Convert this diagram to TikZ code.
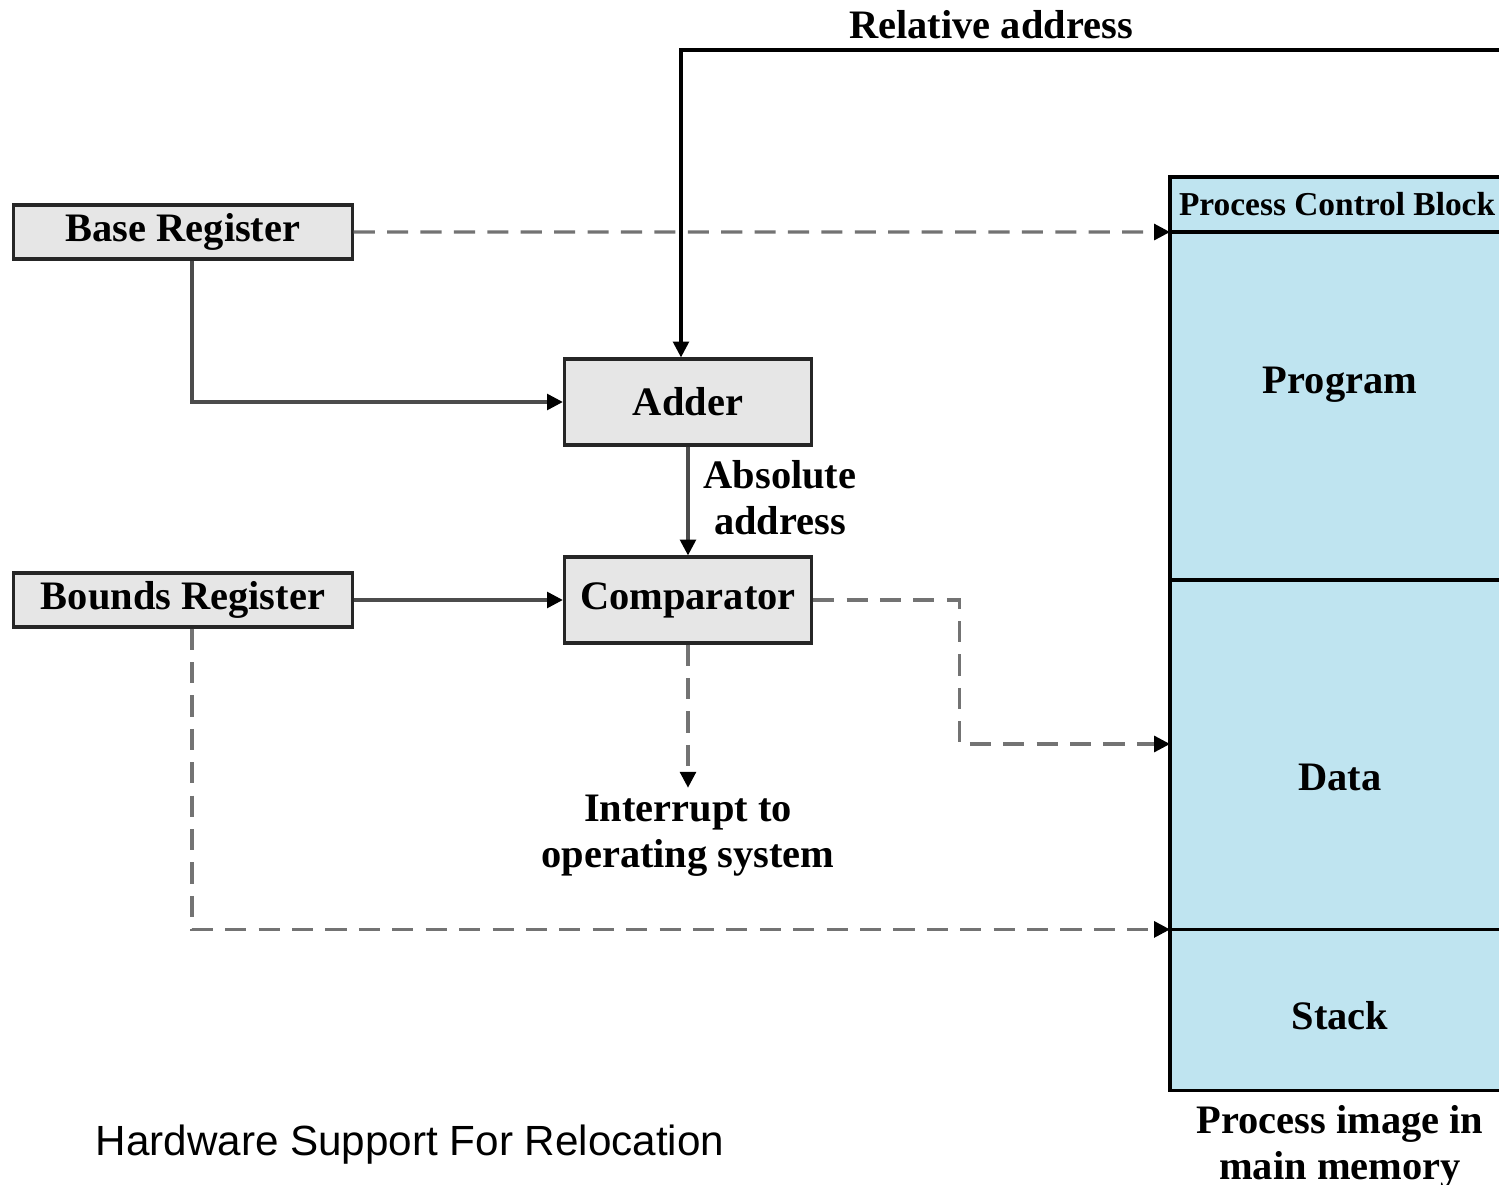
\documentclass[tikz,border=0pt]{standalone}
\usepackage{fontspec}
\setmainfont{Liberation Serif}
\newfontfamily\capfont{Liberation Sans}
\usetikzlibrary{arrows.meta, positioning}

\definecolor{boxgray}{RGB}{230,230,230}
\definecolor{memblue}{RGB}{191,228,240}

\begin{document}
\begin{tikzpicture}[x=0.01cm, y=-0.01cm,
		lbl/.style={font=\bfseries\fontsize{11.5}{13}\selectfont, align=center, inner sep=1pt},
		box/.style={lbl, draw=black!85, line width=0.9pt, fill=boxgray, inner sep=0pt},
		reg/.style={box, minimum width=3.38cm, minimum height=0.54cm},
		unit/.style={box, minimum width=2.47cm, minimum height=0.86cm},
		mem/.style={draw=black, line width=1.1pt, fill=memblue, minimum width=3.34cm, inner sep=0pt, outer sep=0pt},
		wire/.style={draw=black!70, line width=0.9pt, -{Triangle[length=4.5pt, width=4.5pt, color=black]}},
		dwire/.style={wire, draw=black!55, dash pattern=on 6pt off 3.5pt}]
	\useasboundingbox (0,0) rectangle (1499,1185);

	% registers and units
	\node[reg] (base) at (183,232) {Base Register};
	\node[reg] (bounds) at (183,600) {Bounds Register};
	\node[unit] (adder) at (688,402) {Adder};
	\node[unit] (comp) at (688,600) {Comparator};

	% process image
	\node[mem, minimum height=0.55cm, anchor=north west, font=\bfseries\fontsize{9.5}{11}\selectfont] (pcb) at (1170,177) {Process Control Block};
	\node[mem, minimum height=3.48cm, below=0pt of pcb.south west, anchor=north west] (prog) {};
	\node[mem, minimum height=3.49cm, below=0pt of prog.south west, anchor=north west] (data) {};
	\node[mem, minimum height=1.61cm, below=0pt of data.south west, anchor=north west] (stack) {};
	\node[lbl] (progtxt) at (1340,385) {Program};
	\node[lbl] (datatxt) at (1340,777) {Data};
	\node[lbl] (stacktxt) at (1340,1016) {Stack};
	\node[lbl] (image) at (1340,1147) {Process image in\\main memory};

	% labels
	\node[lbl] (reltxt) at (991,25) {Relative address};
	\node[lbl] (abstxt) at (780,498) {Absolute\\address};
	\node[lbl, inner sep=2pt] (irq) at (688,836) {Interrupt to\\operating system};
	\node[font=\capfont\fontsize{12}{14}\selectfont] (caption) at (410,1145) {Hardware Support For Relocation};

	\coordinate (relin) at (1499,50);
	\coordinate (hit) at (1170,744);

	% connections
	\draw[wire, draw=black] (relin) -| ([xshift=-0.07cm]adder.north);
	\draw[wire] ([xshift=0.09cm]base.south) |- (adder.west);
	\draw[wire] (adder.south) -- (comp.north);
	\draw[wire] (bounds.east) -- (comp.west);
	\draw[dwire] (base.east) -- (pcb.south west);
	\draw[dwire] (comp.east) -- ++(146,0) |- (hit);
	\draw[dwire] (comp.south) -- (irq.north);
	\draw[dwire] ([xshift=0.09cm]bounds.south) |- (stack.north west);
\end{tikzpicture}
\end{document}
